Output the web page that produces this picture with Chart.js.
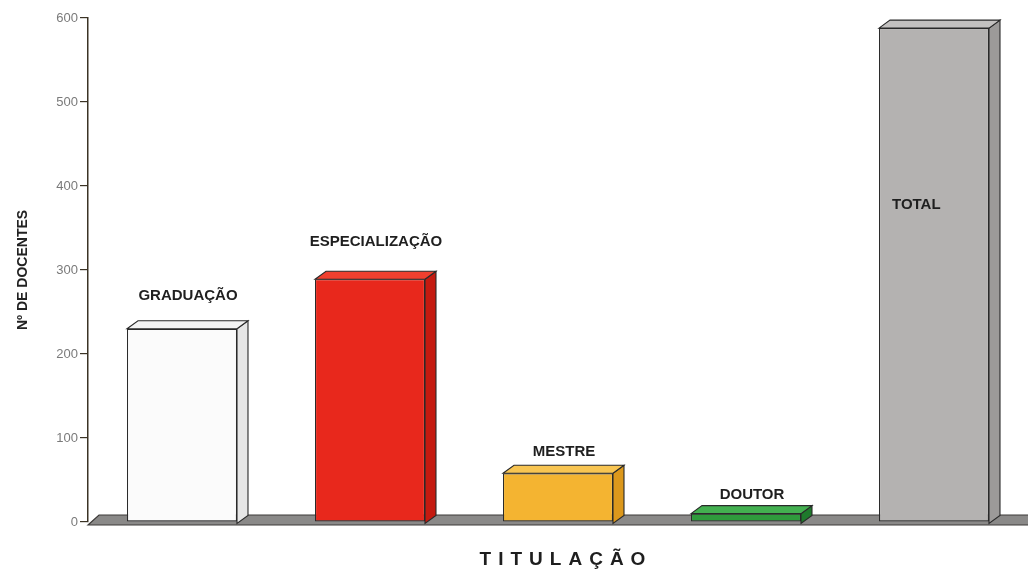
<!DOCTYPE html>
<html>
<head>
<meta charset="utf-8">
<script src="https://cdn.jsdelivr.net/npm/chart.js@4.4.1/dist/chart.umd.min.js"></script>
<style>
  html, body { margin: 0; padding: 0; background: #fff; }
  #wrap { width: 1028px; height: 577px; position: relative; }
</style>
</head>
<body>
<div id="wrap"><canvas id="chart"></canvas></div>
<script>
// data
var categories = ["GRADUAÇÃO", "ESPECIALIZAÇÃO", "MESTRE", "DOUTOR", "TOTAL"];
var docentes = [230, 289, 58, 10, 588];
var yTicks = [0, 100, 200, 300, 400, 500, 600];

// styling
var FONT = "'Liberation Sans', Arial, sans-serif";
var frontColors = ["#fbfbfb", "#e8281c", "#f4b431", "#2f9b3c", "#b4b2b1"];
var sideColors = ["#e6e6e6", "#c41a10", "#dc981c", "#1f7a2c", "#9c9a99"];
var topColors = ["#f3f3f3", "#f0402f", "#f8c552", "#43b050", "#c3c1c0"];
var DX = 11, DY = 8;
// label placement relative to the bar's front top edge (px above), last one sits inside
var labelRise = [33, 37, 21, 19, -177];
var labelAlign = ["center", "center", "center", "center", "left"];

var floorPlugin = {
  id: "floor",
  beforeDatasetsDraw: function (chart) {
    var ctx = chart.ctx, a = chart.chartArea;
    var base = chart.scales.y.getPixelForValue(0);
    ctx.save();
    ctx.beginPath();
    ctx.moveTo(a.left, base + 3);
    ctx.lineTo(a.left + DX, base - DY + 1);
    ctx.lineTo(chart.width + 2, base - DY + 1);
    ctx.lineTo(chart.width + 2, base + 3);
    ctx.closePath();
    ctx.fillStyle = "#8a8988";
    ctx.fill();
    ctx.strokeStyle = "#3c3a38";
    ctx.lineWidth = 1.2;
    ctx.stroke();
    ctx.restore();
  }
};

var boxPlugin = {
  id: "box3d",
  afterDatasetsDraw: function (chart) {
    var ctx = chart.ctx;
    var bars = chart.getDatasetMeta(0).data;
    ctx.save();
    ctx.lineWidth = 1.1;
    ctx.strokeStyle = "#2a2a2a";
    bars.forEach(function (bar, i) {
      var p = bar.getProps(["x", "y", "base", "width"], true);
      var l = p.x - p.width / 2, r = p.x + p.width / 2, t = p.y, b = p.base + 2;
      // side
      ctx.beginPath();
      ctx.moveTo(r, t);
      ctx.lineTo(r + DX, t - DY);
      ctx.lineTo(r + DX, b - DY);
      ctx.lineTo(r, b);
      ctx.closePath();
      ctx.fillStyle = sideColors[i];
      ctx.fill();
      ctx.stroke();
      // top
      ctx.beginPath();
      ctx.moveTo(l, t);
      ctx.lineTo(l + DX, t - DY);
      ctx.lineTo(r + DX, t - DY);
      ctx.lineTo(r, t);
      ctx.closePath();
      ctx.fillStyle = topColors[i];
      ctx.fill();
      ctx.stroke();

      // category label
      ctx.fillStyle = "#1f1f1f";
      ctx.font = "bold 15px " + FONT;
      ctx.textBaseline = "middle";
      ctx.textAlign = labelAlign[i];
      var lx = labelAlign[i] === "left" ? l + 13 : p.x + 6;
      ctx.fillText(categories[i], lx, t - labelRise[i]);
    });
    ctx.restore();
  }
};

var xTitlePlugin = {
  id: "xTitle",
  afterDraw: function (chart) {
    var ctx = chart.ctx;
    ctx.save();
    ctx.font = "bold 19px " + FONT;
    ctx.fillStyle = "#1e1e1e";
    ctx.textAlign = "center";
    ctx.textBaseline = "middle";
    if ("letterSpacing" in ctx) ctx.letterSpacing = "7px";
    ctx.fillText("TITULAÇÃO", 566, 560);
    ctx.restore();
  }
};

new Chart(document.getElementById("chart").getContext("2d"), {
  type: "bar",
  data: {
    labels: categories,
    datasets: [{
      data: docentes,
      backgroundColor: frontColors,
      borderColor: "#2a2a2a",
      borderWidth: 1.1,
      borderSkipped: false,
      categoryPercentage: 1,
      barPercentage: 0.585
    }]
  },
  options: {
    responsive: true,
    maintainAspectRatio: false,
    animation: false,
    layout: { padding: { top: 18, right: -5, left: 0, bottom: 0 } },
    plugins: { legend: { display: false }, tooltip: { enabled: false } },
    scales: {
      x: {
        grid: { display: false },
        border: { display: false },
        ticks: { display: false },
        afterFit: function (s) { s.height = 55; }
      },
      y: {
        min: 0,
        max: 600,
        afterBuildTicks: function (s) { s.ticks = yTicks.map(function (v) { return { value: v }; }); },
        afterFit: function (s) { s.width = 88; },
        grid: { drawOnChartArea: false, drawTicks: true, tickLength: 8, color: "#3b3325", lineWidth: 1.2 },
        border: { display: true, color: "#3b3325", width: 1.5 },
        ticks: { color: "#7a7a7a", font: { family: FONT, size: 13 }, padding: 2 },
        title: {
          display: true,
          text: "Nº DE DOCENTES",
          color: "#222",
          font: { family: FONT, size: 14, weight: "bold" },
          padding: { top: 15, bottom: 0 }
        }
      }
    }
  },
  plugins: [floorPlugin, boxPlugin, xTitlePlugin]
});
</script>
</body>
</html>
